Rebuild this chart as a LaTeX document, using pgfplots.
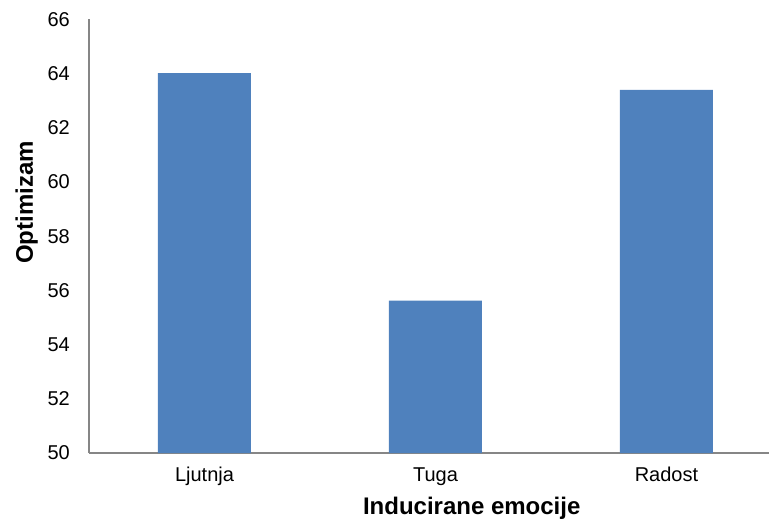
\documentclass[border=0pt]{standalone}
\usepackage{pgfplots}
\pgfplotsset{compat=1.18}
\usepackage{fontspec}
\setmainfont{Liberation Sans}
\definecolor{barblue}{HTML}{4F81BD}
\definecolor{axgray}{HTML}{868686}
\begin{document}
\begin{tikzpicture}
\begin{axis}[
  scale only axis,
  width=680bp, height=433.5bp,
  xmin=-0.5, xmax=2.444,
  ymin=50, ymax=66,
  ytick={50,52,...,66},
  xtick={0,1,2},
  xticklabels={Ljutnja,Tuga,Radost},
  axis x line=bottom, axis y line=left,
  axis line style={draw=axgray, line width=1.3bp, -},
  major tick length=0pt,
  /pgf/number format/assume math mode=true,
  tick label style={font=\fontsize{20bp}{24bp}\selectfont, text=black},
  yticklabel style={inner sep=0pt, anchor=east, xshift=-19bp},
  xticklabel style={inner sep=0pt, anchor=base, yshift=-28.7bp},
  ybar, bar width=93bp,
  xlabel={Inducirane emocije},
  ylabel={Optimizam},
  label style={font=\bfseries\fontsize{24bp}{28bp}\selectfont},
  xlabel style={at={(axis description cs:0.5628,-0.143)}, anchor=base, inner sep=0pt},
  ylabel style={at={(axis description cs:-0.0824,0.578)}, anchor=base, inner sep=0pt},
  clip=true,
]
\addplot[fill=barblue, draw=none] coordinates {(0,64.02) (1,55.62) (2,63.40)};
\coordinate (bl) at (rel axis cs:0,0);
\coordinate (tr) at (rel axis cs:1,1);
\end{axis}
\pgfresetboundingbox
\path[use as bounding box] ([xshift=-89bp,yshift=-67bp]bl) rectangle ([yshift=19.5bp]tr);
\end{tikzpicture}
\end{document}
